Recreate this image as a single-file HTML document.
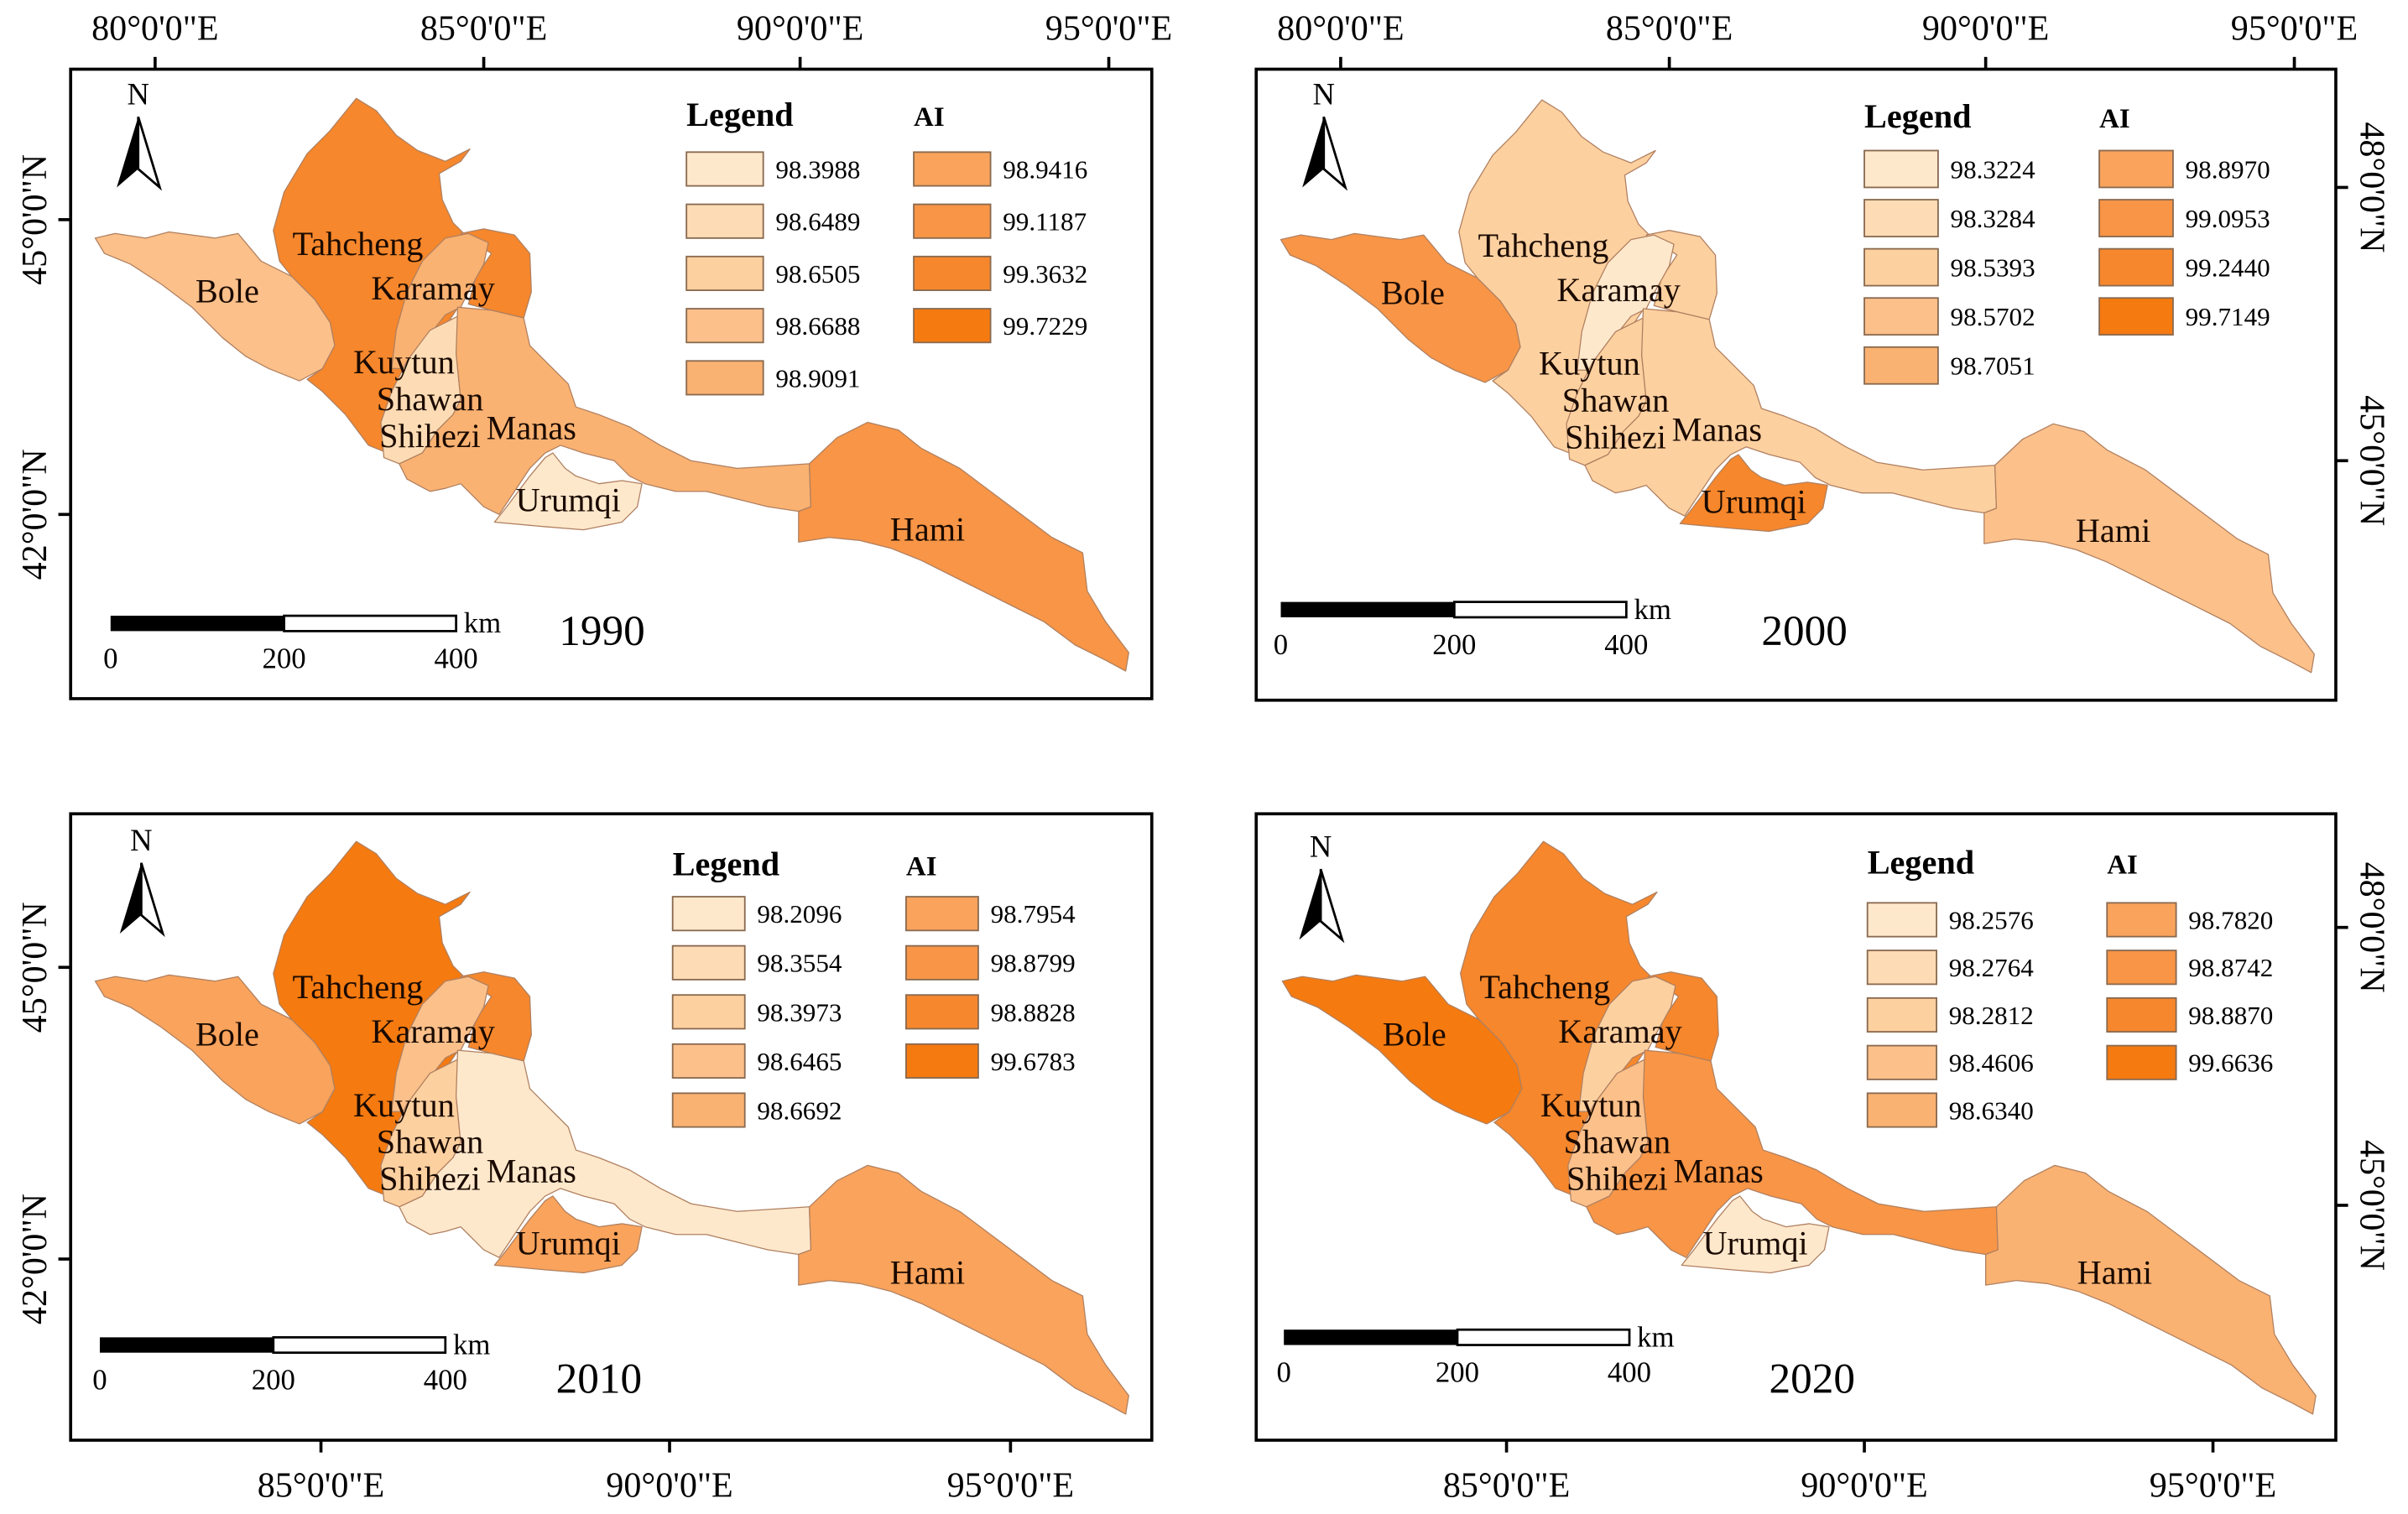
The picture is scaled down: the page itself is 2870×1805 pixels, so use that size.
<!DOCTYPE html>
<html><head><meta charset="utf-8"><style>
html,body{margin:0;padding:0;background:#fff;}
svg{display:block;font-family:"Liberation Serif",serif;}
</style></head><body>
<svg id="fig" width="2870" height="1805" viewBox="0 0 1568 986" xmlns="http://www.w3.org/2000/svg"></svg>
<script>
const years = ['1990','2000','2010','2020'];
const legend1990 = ['98.3988','98.6489','98.6505','98.6688','98.9091','98.9416','99.1187','99.3632','99.7229'];
const legend2000 = ['98.3224','98.3284','98.5393','98.5702','98.7051','98.8970','99.0953','99.2440','99.7149'];
const legend2010 = ['98.2096','98.3554','98.3973','98.6465','98.6692','98.7954','98.8799','98.8828','99.6783'];
const legend2020 = ['98.2576','98.2764','98.2812','98.4606','98.6340','98.7820','98.8742','98.8870','99.6636'];
const regionNames = ['bole','tahcheng','karamay-east','karamay-strip','kuytun-strip','manas','urumqi','hami'];
const classes1990 = [3,7,7,4,1,4,0,6];
const classes2000 = [6,2,2,0,2,2,7,3];
const classes2010 = [5,8,7,3,2,0,5,5];
const classes2020 = [8,7,7,2,3,6,0,4];
const palette = ['#fee8cc','#fddcb5','#fdd0a0','#fcc08a','#fab272','#f9a35c','#f89546','#f6872c','#f57a10'];

const legends=[legend1990,legend2000,legend2010,legend2020];
const classes=[classes1990,classes2000,classes2010,classes2020];
const shapes=[
[[62,155],[75,152],[95,155],[110,151],[140,155],[155,152],[170,170],[190,180],[205,195],[215,210],[218,225],[210,240],[195,248],[175,240],[160,232],[145,220],[125,200],[105,185],[85,172],[68,165]],
[[232,64],[245,72],[258,88],[272,98],[290,105],[306,97],[300,105],[286,113],[288,130],[295,145],[300,150],[310,160],[305,190],[295,205],[285,220],[278,260],[272,292],[250,294],[240,290],[225,270],[210,255],[200,247],[210,240],[218,225],[215,210],[205,195],[190,180],[182,170],[178,150],[185,125],[200,100],[215,85]],
[[300,152],[315,149],[335,153],[345,165],[346,190],[341,207],[320,202],[305,198],[310,180],[320,165]],
[[290,155],[305,152],[318,158],[315,172],[305,190],[300,200],[290,205],[282,215],[275,230],[262,240],[255,240],[258,215],[265,190],[275,170]],
[[280,215],[300,205],[297,230],[300,260],[295,270],[285,280],[275,295],[260,302],[250,298],[248,275],[255,255],[265,235]],
[[298,200],[320,202],[341,207],[345,225],[355,235],[370,250],[375,265],[390,270],[410,278],[430,290],[450,300],[480,305],[527,302],[528,330],[520,333],[500,330],[480,325],[460,320],[440,320],[420,315],[410,310],[400,300],[380,295],[365,290],[355,295],[345,305],[335,320],[325,335],[315,330],[305,320],[300,315],[290,318],[280,320],[265,312],[260,302],[275,295],[285,280],[295,270],[300,260],[297,230]],
[[360,295],[368,305],[375,310],[390,315],[405,313],[418,315],[415,330],[405,340],[380,345],[355,343],[322,340],[330,330],[345,310],[355,298]],
[[527,302],[545,285],[565,275],[585,280],[600,292],[625,305],[645,320],[665,335],[685,350],[705,360],[708,385],[720,405],[735,425],[733,437],[720,430],[700,420],[680,405],[660,395],[640,385],[620,375],[600,365],[580,357],[560,352],[540,350],[520,353],[520,333],[528,330]]
];
const labels=[['Bole',148,197],['Tahcheng',233,166],['Karamay',282,195],['Kuytun',263,243],['Shawan',280,267],['Shihezi',280,291],['Manas',346,286],['Urumqi',370,333],['Hami',604,352]];

const panels=[
 {f:[46,45,750,455],dx:0,dy:0,leg:[447,75,595,99,34,50,22],sb:[72,401],yr:[392,420],na:[90,62],top:[[101,'80'],[315,'85'],[521,'90'],[722,'95']],side:'left',lat:[[143,'45'],[335,'42']]},
 {f:[818,45,1521,456],dx:772,dy:1,leg:[1214,76,1367,98,32,48,24],sb:[834,392],yr:[1175,420],na:[862,62],top:[[873,'80'],[1087,'85'],[1293,'90'],[1494,'95']],side:'right',lat:[[122,'48'],[300,'45']]},
 {f:[46,530,750,938],dx:0,dy:484,leg:[438,563,590,584,32,47,22],sb:[65,871],yr:[390,907],na:[92,548],bot:[[209,'85'],[436,'90'],[658,'95']],side:'left',lat:[[630,'45'],[820,'42']]},
 {f:[818,530,1521,938],dx:773,dy:484,leg:[1216,562,1372,588,31,45,22],sb:[836,866],yr:[1180,907],na:[860,552],bot:[[981,'85'],[1214,'90'],[1441,'95']],side:'right',lat:[[604,'48'],[785,'45']]}
];
const NS='http://www.w3.org/2000/svg';
const svg=document.getElementById('fig');
function mk(tag,attrs,parent,txt){const e=document.createElementNS(NS,tag);for(const k in attrs)e.setAttribute(k,attrs[k]);if(txt!==undefined)e.textContent=txt;(parent||svg).appendChild(e);return e;}

panels.forEach((p,i)=>{
 const g=mk('g',{});
 
 
 const [x1,y1,x2,y2]=p.f;
 shapes.forEach((s,r)=>{
  const pts=s.map(q=>(q[0]+p.dx)+','+(q[1]+p.dy)).join(' ');
  const pg=mk('polygon',{points:pts,fill:palette[classes[i][r]],stroke:'#b08060','stroke-width':0.7,'stroke-linejoin':'round'},g);
  
  
 });
 labels.forEach(l=>{
  const t=mk('text',{x:l[1]+p.dx,y:l[2]+p.dy,'font-size':22,'text-anchor':'middle',fill:'#1a0a00'},g,l[0]);
  
  
 });
 const fr=mk('rect',{x:x1,y:y1,width:x2-x1,height:y2-y1,fill:'none',stroke:'#000','stroke-width':2},g);
 
 
 const L=p.leg;
 const lt=mk('text',{x:L[0],y:L[1]+7,'font-size':22,'font-weight':'bold'},g,'Legend');
 
 
 const at=mk('text',{x:L[2],y:L[1]+7,'font-size':18,'font-weight':'bold'},g,'AI');
 
 
 legends[i].forEach((v,k)=>{
  const col=k<5?0:1, row=k<5?k:k-5;
  const bx=col?L[2]:L[0], by=L[3]+row*L[4];
  const b=mk('rect',{x:bx,y:by,width:L[5],height:L[6],fill:palette[k],stroke:'#8a6a50','stroke-width':1},g);
  
  
  const t=mk('text',{x:bx+L[5]+8,y:by+L[6]/2+6,'font-size':17},g,v);
  
  
 });
 const [sx,sy]=p.sb;
 const sb=mk('g',{},g);
 
 
 mk('rect',{x:sx,y:sy,width:113,height:10,fill:'#000'},sb);
 mk('rect',{x:sx+113,y:sy,width:112,height:10,fill:'#fff',stroke:'#000','stroke-width':1.5},sb);
 [['0',0],['200',113],['400',225]].forEach(a=>mk('text',{x:sx+a[1],y:sy+34,'font-size':19,'text-anchor':'middle'},sb,a[0]));
 mk('text',{x:sx+230,y:sy+11,'font-size':19},sb,'km');
 const yt=mk('text',{x:p.yr[0],y:p.yr[1],'font-size':28,'text-anchor':'middle'},g,years[i]);
 
 
 const [nx,ny]=p.na;
 const na=mk('g',{},g);
 
 
 mk('text',{x:nx,y:ny+6,'font-size':20,'text-anchor':'middle'},na,'N');
 mk('polygon',{points:`${nx},${ny+14} ${nx-14},${ny+60} ${nx},${ny+48}`,fill:'#000'},na);
 mk('polygon',{points:`${nx},${ny+14} ${nx+14},${ny+60} ${nx},${ny+48}`,fill:'#fff',stroke:'#000','stroke-width':1.5},na);
 (p.top||[]).forEach(t=>{
  mk('line',{x1:t[0],y1:y1-8,x2:t[0],y2:y1,stroke:'#000','stroke-width':2},g);
  const e=mk('text',{x:t[0],y:y1-19,'font-size':23,'text-anchor':'middle'},g,t[1]+'°0\'0"E');
  
  
 });
 (p.bot||[]).forEach(t=>{
  mk('line',{x1:t[0],y1:y2,x2:t[0],y2:y2+8,stroke:'#000','stroke-width':2},g);
  const e=mk('text',{x:t[0],y:y2+37,'font-size':23,'text-anchor':'middle'},g,t[1]+'°0\'0"E');
  
  
 });
 p.lat.forEach(t=>{
  let e;
  if(p.side==='left'){
   mk('line',{x1:x1-8,y1:t[0],x2:x1,y2:t[0],stroke:'#000','stroke-width':2},g);
   e=mk('text',{x:0,y:0,'font-size':23,'text-anchor':'middle',transform:`translate(${x1-16},${t[0]}) rotate(-90)`},g,t[1]+'°0\'0"N');
  }else{
   mk('line',{x1:x2,y1:t[0],x2:x2+8,y2:t[0],stroke:'#000','stroke-width':2},g);
   e=mk('text',{x:0,y:0,'font-size':23,'text-anchor':'middle',transform:`translate(${x2+16},${t[0]}) rotate(90)`},g,t[1]+'°0\'0"N');
  }
  
  
 });
});
</script>
</body></html>
